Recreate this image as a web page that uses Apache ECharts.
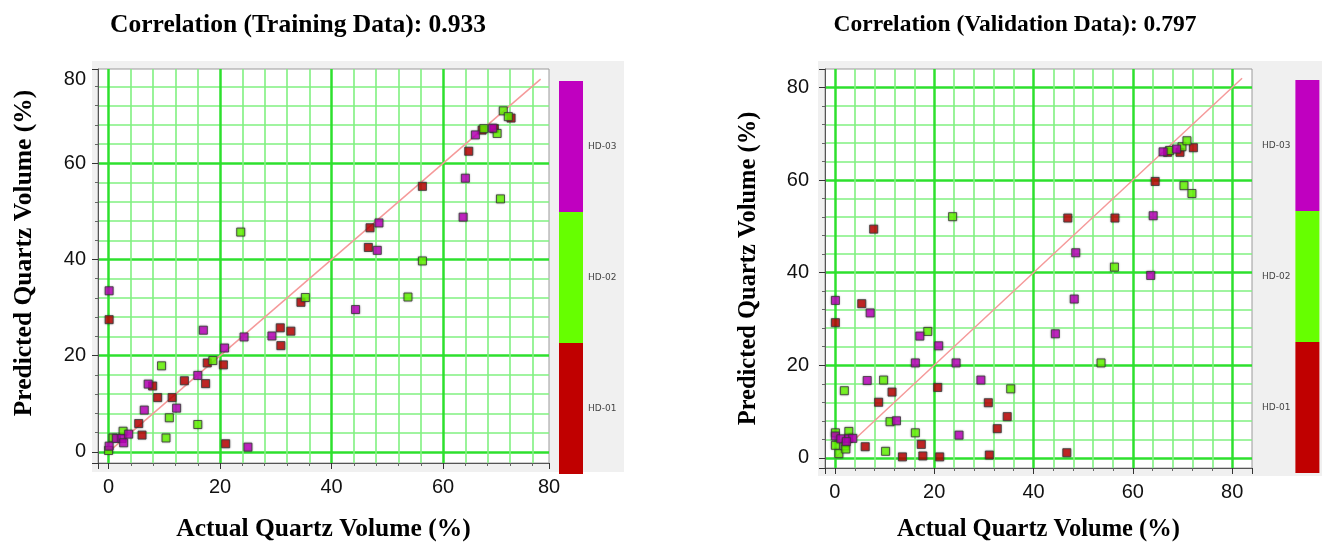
<!DOCTYPE html>
<html>
<head>
<meta charset="utf-8">
<script src="https://cdn.jsdelivr.net/npm/echarts@6/dist/echarts.min.js"></script>
<style>
html,body{margin:0;padding:0;background:#ffffff;}
#chart{width:1326px;height:547px;}
</style>
</head>
<body>
<div id="chart"></div>
<script>
// ---------------- DATA ----------------
const WELLS = ['HD-01', 'HD-02', 'HD-03'];
const WELL_COLORS = ['#c00000', '#66ff00', '#c000c0'];
const TICK_LABELS = [0, 20, 40, 60, 80];

const TITLE_TRAIN = 'Correlation (Training Data): 0.933';
const TITLE_VALID = 'Correlation (Validation Data): 0.797';
const X_NAME = 'Actual Quartz Volume (%)';
const Y_NAME = 'Predicted Quartz Volume (%)';

// Training data
const TRAIN_HD01_ACTUAL = [0.1, 30.8, 30.9, 32.7, 34.5, 17.7, 17.4, 20.6, 7.9, 13.6, 8.8, 11.4, 5.4, 6.0, 21.0, 46.9, 46.6, 56.3, 64.6, 67.0, 69.2, 72.2];
const TRAIN_HD01_PRED   = [27.5, 25.8, 22.1, 25.1, 31.1, 18.5, 14.2, 18.1, 13.7, 14.8, 11.3, 11.3, 5.9, 3.5, 1.7, 46.6, 42.5, 55.2, 62.5, 66.9, 67.2, 69.4];
const TRAIN_HD02_ACTUAL = [0.0, 0.8, 2.6, 18.7, 9.5, 10.9, 16.0, 10.3, 35.3, 23.7, 56.3, 53.7, 67.3, 69.7, 70.8, 71.7, 70.3];
const TRAIN_HD02_PRED   = [0.3, 2.9, 4.3, 19.0, 17.9, 7.1, 5.7, 2.9, 32.1, 45.7, 39.7, 32.2, 67.2, 66.2, 70.9, 69.7, 52.6];
const TRAIN_HD03_ACTUAL = [0.1, 0.1, 17.0, 24.3, 29.3, 20.8, 16.0, 7.1, 12.2, 6.4, 25.0, 1.4, 2.4, 2.7, 3.6, 48.5, 48.2, 44.3, 63.6, 64.0, 65.8, 68.9];
const TRAIN_HD03_PRED   = [33.5, 1.2, 25.3, 23.9, 24.1, 21.6, 15.9, 14.1, 9.1, 8.7, 1.0, 2.8, 2.8, 1.9, 3.7, 47.6, 41.9, 29.6, 48.8, 56.9, 65.9, 67.3];

// Validation data
const VALID_HD01_ACTUAL = [0.1, 5.4, 7.8, 11.5, 20.7, 8.8, 17.4, 6.1, 13.6, 17.7, 21.1, 30.9, 34.7, 32.7, 31.1, 46.9, 56.4, 64.5, 46.7, 67.0, 69.5, 72.2];
const VALID_HD01_PRED   = [29.2, 33.3, 49.4, 14.2, 15.2, 12.0, 2.9, 2.4, 0.2, 0.4, 0.2, 11.9, 8.9, 6.3, 0.6, 51.8, 51.8, 59.7, 1.1, 66.0, 66.0, 67.0];
const VALID_HD02_ACTUAL = [0.1, 0.1, 0.8, 2.8, 2.0, 2.2, 1.9, 9.8, 18.7, 11.1, 16.2, 10.2, 35.4, 23.7, 56.3, 53.6, 70.3, 71.9, 67.4, 69.9, 70.9];
const VALID_HD02_PRED   = [5.4, 2.7, 0.9, 5.7, 2.6, 1.9, 14.5, 16.8, 27.3, 7.8, 5.4, 1.4, 14.9, 52.1, 41.2, 20.5, 58.8, 57.1, 66.4, 67.2, 68.5];
const VALID_HD03_ACTUAL = [0.1, 7.1, 17.1, 20.9, 16.2, 24.4, 6.5, 12.4, 25.0, 29.4, 0.1, 1.2, 2.8, 3.6, 2.3, 48.5, 63.6, 48.2, 44.4, 64.1, 66.1, 68.8];
const VALID_HD03_PRED   = [34.0, 31.3, 26.3, 24.2, 20.5, 20.5, 16.7, 8.0, 4.9, 16.8, 4.7, 4.1, 4.2, 4.2, 3.5, 44.3, 39.4, 34.3, 26.8, 52.3, 66.1, 66.7];

// 1:1 reference lines (start, end)
const DIAG_TRAIN = [0, 77.5];
const DIAG_VALID = [0, 82];

// Axis extents
const TRAIN_X_RANGE = [-1.9, 79];
const TRAIN_Y_RANGE = [-2.3, 79.6];
const VALID_X_RANGE = [-2, 84];
const VALID_Y_RANGE = [-2.2, 84];

// ---------------- BUILD ----------------
function buildPoints(groups) {
  const out = [];
  groups.forEach(function (g, wi) {
    for (let i = 0; i < g[0].length; i++) out.push([g[0][i], g[1][i], wi + 1]);
  });
  return out;
}
const trainPoints = buildPoints([[TRAIN_HD01_ACTUAL, TRAIN_HD01_PRED], [TRAIN_HD02_ACTUAL, TRAIN_HD02_PRED], [TRAIN_HD03_ACTUAL, TRAIN_HD03_PRED]]);
const validPoints = buildPoints([[VALID_HD01_ACTUAL, VALID_HD01_PRED], [VALID_HD02_ACTUAL, VALID_HD02_PRED], [VALID_HD03_ACTUAL, VALID_HD03_PRED]]);

function labelFormatter(v) {
  for (let i = 0; i < TICK_LABELS.length; i++) {
    if (Math.abs(v - TICK_LABELS[i]) < 1.5) return String(TICK_LABELS[i]);
  }
  return '';
}

const SERIF = 'Liberation Serif';
const SANS = 'Liberation Sans';

function makeAxis(gridIndex, range, isX, nameGap, labelMargin, nameSize, namePadding) {
  return {
    type: 'value',
    gridIndex: gridIndex,
    min: range[0],
    max: range[1],
    splitNumber: 4,
    name: isX ? X_NAME : Y_NAME,
    nameLocation: 'middle',
    nameGap: nameGap,
    nameTextStyle: { fontFamily: SERIF, fontWeight: 'bold', fontSize: nameSize, color: '#000', padding: namePadding || 0 },
    axisLine: { show: true, onZero: false, lineStyle: { color: '#555', width: 1 } },
    axisTick: { show: true, length: 6, lineStyle: { color: '#333', width: 1 } },
    minorTick: { show: true, splitNumber: 5, length: 3, lineStyle: { color: '#666', width: 1 } },
    splitLine: { show: true, showMinLine: false, showMaxLine: false, lineStyle: { color: '#2ee02e', width: 2.5 } },
    minorSplitLine: { show: true, lineStyle: { color: '#80f080', width: 1.6 } },
    axisLabel: {
      formatter: labelFormatter,
      margin: labelMargin,
      fontFamily: SANS,
      fontSize: 20,
      color: '#111',
      verticalAlignMaxLabel: isX ? null : 'top'
    }
  };
}

function legendMap(seriesIndex, left, top) {
  return {
    type: 'piecewise',
    seriesIndex: seriesIndex,
    dimension: 2,
    left: left,
    top: top,
    orient: 'vertical',
    itemWidth: 24,
    itemHeight: 131,
    itemGap: 0,
    itemSymbol: 'rect',
    textGap: 5,
    padding: 0,
    selectedMode: false,
    showLabel: true,
    textStyle: { fontFamily: 'DejaVu Sans', fontSize: 9, color: '#444' },
    pieces: WELLS.map(function (w, i) { return { value: i + 1, label: w, color: WELL_COLORS[i] }; })
  };
}

function panel(x, y, w, h) {
  return { type: 'rect', z: -100, silent: true, shape: { x: x, y: y, width: w, height: h }, style: { fill: '#f0f0f0' } };
}

const chart = echarts.init(document.getElementById('chart'), null, { renderer: 'canvas' });
const scatterStyle = { borderColor: '#3a3a3a', borderWidth: 1, shadowBlur: 2, shadowColor: 'rgba(0,0,0,0.35)' };

chart.setOption({
  animation: false,
  backgroundColor: '#ffffff',
  title: [
    { text: TITLE_TRAIN, left: 293, top: 7, textAlign: 'center', textStyle: { fontFamily: SERIF, fontWeight: 'bold', fontSize: 25.5, color: '#000' } },
    { text: TITLE_VALID, left: 1010, top: 8, textAlign: 'center', textStyle: { fontFamily: SERIF, fontWeight: 'bold', fontSize: 23.5, color: '#000' } }
  ],
  graphic: { elements: [panel(92, 61, 532, 411), panel(818, 61, 504, 415)] },
  grid: [
    { left: 98, top: 69, width: 451, height: 394, show: true, backgroundColor: '#ffffff', borderColor: '#9a9a9a', borderWidth: 1, containLabel: false, outerBoundsMode: 'none' },
    { left: 825, top: 69, width: 427, height: 399, show: true, backgroundColor: '#ffffff', borderColor: '#9a9a9a', borderWidth: 1, containLabel: false, outerBoundsMode: 'none' }
  ],
  xAxis: [
    makeAxis(0, TRAIN_X_RANGE, true, 53, 14, 25.5),
    makeAxis(1, VALID_X_RANGE, true, 49, 14, 24.5)
  ],
  yAxis: [
    makeAxis(0, TRAIN_Y_RANGE, false, 61, 12, 25.5, [0, 0, 0, 26]),
    makeAxis(1, VALID_Y_RANGE, false, 64, 16, 24.5)
  ],
  visualMap: [
    legendMap(0, 559, 81),
    legendMap(1, 1262, 80)
  ],
  series: [
    { type: 'scatter', xAxisIndex: 0, yAxisIndex: 0, symbol: 'rect', symbolSize: 8, itemStyle: scatterStyle, data: trainPoints, z: 5 },
    { type: 'scatter', xAxisIndex: 1, yAxisIndex: 1, symbol: 'rect', symbolSize: 8, itemStyle: scatterStyle, data: validPoints, z: 5 },
    { type: 'line', xAxisIndex: 0, yAxisIndex: 0, symbol: 'none', silent: true, z: 3, lineStyle: { color: '#f59a9a', width: 1.5 }, data: [[DIAG_TRAIN[0], DIAG_TRAIN[0]], [DIAG_TRAIN[1], DIAG_TRAIN[1]]] },
    { type: 'line', xAxisIndex: 1, yAxisIndex: 1, symbol: 'none', silent: true, z: 3, lineStyle: { color: '#f59a9a', width: 1.5 }, data: [[DIAG_VALID[0], DIAG_VALID[0]], [DIAG_VALID[1], DIAG_VALID[1]]] }
  ]
});
</script>
</body>
</html>
